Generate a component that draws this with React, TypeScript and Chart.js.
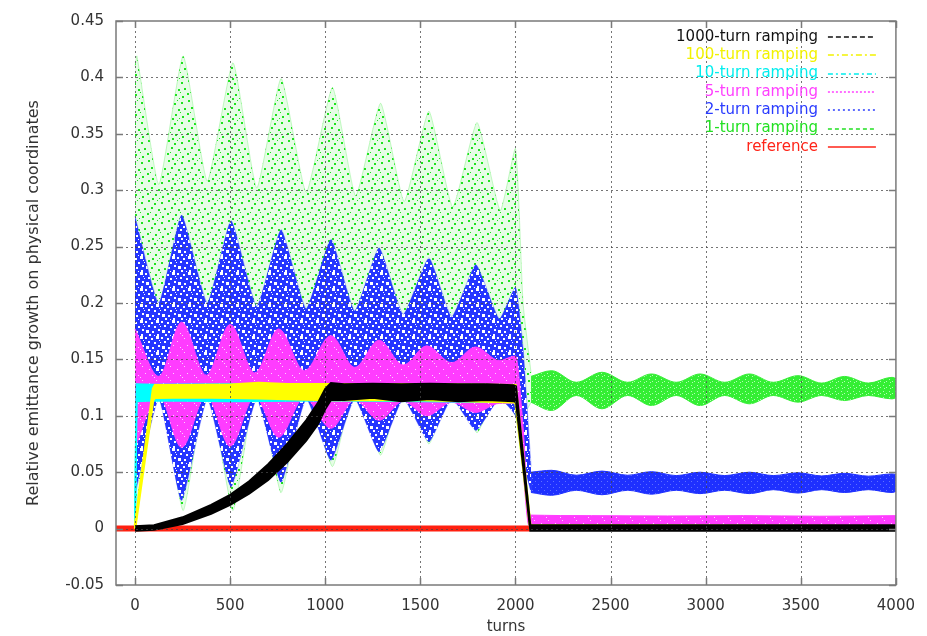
import React, { useEffect, useRef } from 'react';
import { Chart, registerables } from 'chart.js';

Chart.register(...registerables);

// ---------- axes ----------
const X_MIN = -100;
const X_MAX = 4000;
const Y_MIN = -0.05;
const Y_MAX = 0.45;
const X_TICKS = [0, 500, 1000, 1500, 2000, 2500, 3000, 3500, 4000];
const Y_TICKS = [-0.05, 0, 0.05, 0.1, 0.15, 0.2, 0.25, 0.3, 0.35, 0.4, 0.45];
const Y_TICK_LABELS = ['-0.05', '0', '0.05', '0.1', '0.15', '0.2', '0.25', '0.3', '0.35', '0.4', '0.45'];
const X_TITLE = 'turns';
const Y_TITLE = 'Relative emittance growth on physical coordinates';

// ---------- legend ----------
const LEGEND_NAMES = ['1000-turn ramping', '100-turn ramping', '10-turn ramping', '5-turn ramping', '2-turn ramping', '1-turn ramping', 'reference'];
const LEGEND_COLORS = ['#111111', '#f2f200', '#00eeee', '#ff40ff', '#2a3cff', '#22e022', '#ff2418'];
const LEGEND_DASHES = [[5, 3], [6, 3, 2, 3], [5, 3, 2, 3], [2, 2], [2, 3], [4, 3], []];

// ---------- 1000-turn ramping (black band: upper / lower edge) ----------
const T1000_X = [0, 100, 250, 400, 500, 600, 700, 800, 900, 960, 1000, 1030, 1100, 1250, 1400, 1550, 1700, 1850, 1990, 2003, 2078, 4000];
const T1000_HI = [0.002, 0.003, 0.010, 0.021, 0.030, 0.042, 0.057, 0.075, 0.096, 0.111, 0.124, 0.129, 0.128, 0.1285, 0.128, 0.1285, 0.128, 0.128, 0.127, 0.126, 0.003, 0.003];
const T1000_LO = [-0.002, -0.001, 0.004, 0.013, 0.021, 0.031, 0.043, 0.059, 0.078, 0.092, 0.106, 0.114, 0.114, 0.116, 0.113, 0.115, 0.113, 0.114, 0.113, 0.112, -0.002, -0.002];

// ---------- 100-turn ramping (yellow) ----------
const T100_X = [0, 95, 105, 300, 500, 650, 800, 1000, 1500, 2000, 2078, 4000];
const T100_HI = [0.003, 0.124, 0.127, 0.127, 0.1275, 0.129, 0.128, 0.128, 0.128, 0.127, 0.003, 0.002];
const T100_LO = [0, 0.114, 0.116, 0.1165, 0.116, 0.1155, 0.115, 0.114, 0.114, 0.112, 0, 0];

// ---------- 10-turn ramping (cyan) ----------
const T10_X = [0, 8, 100, 500, 1000, 1500, 2000, 2078, 4000];
const T10_HI = [0.003, 0.128, 0.1275, 0.128, 0.128, 0.128, 0.127, 0.003, 0.002];
const T10_LO = [0, 0.113, 0.1135, 0.113, 0.1135, 0.113, 0.112, 0, 0];

// ---------- 5-turn ramping (magenta) ----------
const T5_X = [0, 125, 245, 375, 500, 630, 755, 890, 1030, 1155, 1283, 1410, 1534, 1665, 1790, 1915, 2000, 2040, 2072, 2400, 2800, 3200, 3600, 4000];
const T5_HI = [0.177, 0.135, 0.183, 0.136, 0.181, 0.138, 0.177, 0.140, 0.171, 0.143, 0.167, 0.145, 0.162, 0.147, 0.161, 0.149, 0.153, 0.09, 0.012, 0.0115, 0.0112, 0.0115, 0.011, 0.0115];
const T5_LO = [0.072, 0.118, 0.072, 0.118, 0.073, 0.117, 0.081, 0.116, 0.089, 0.114, 0.096, 0.113, 0.100, 0.112, 0.103, 0.111, 0.111, 0.05, 0.002, 0.002, 0.002, 0.002, 0.002, 0.002];

// ---------- 2-turn ramping (blue) : during ramp / after ----------
const T2A_X = [0, 125, 245, 380, 505, 640, 768, 900, 1030, 1155, 1283, 1410, 1545, 1665, 1792, 1915, 2000, 2040, 2082];
const T2A_HI = [0.277, 0.200, 0.278, 0.200, 0.273, 0.197, 0.265, 0.195, 0.2565, 0.193, 0.249, 0.190, 0.240, 0.188, 0.234, 0.186, 0.214, 0.16, 0.055];
const T2A_LO = [0.030, 0.115, 0.025, 0.115, 0.037, 0.115, 0.041, 0.115, 0.0605, 0.115, 0.068, 0.115, 0.077, 0.115, 0.087, 0.115, 0.100, 0.06, 0.032];
const T2B_X = [2082, 2190, 2320, 2455, 2590, 2715, 2845, 2970, 3100, 3230, 3355, 3485, 3610, 3730, 3855, 3980, 4000];
const T2B_HI = [0.050, 0.0517, 0.0473, 0.051, 0.0473, 0.0505, 0.047, 0.050, 0.047, 0.050, 0.047, 0.0495, 0.0467, 0.049, 0.0465, 0.0485, 0.048];
const T2B_LO = [0.032, 0.0295, 0.034, 0.030, 0.034, 0.0305, 0.034, 0.031, 0.034, 0.031, 0.0345, 0.0315, 0.0345, 0.032, 0.0345, 0.032, 0.033];

// ---------- 1-turn ramping (green) : during ramp / after ----------
const T1A_X = [0, 10, 125, 253, 380, 515, 640, 768, 900, 1038, 1160, 1291, 1415, 1545, 1670, 1798, 1920, 2000, 2040, 2082];
const T1A_HI = [0.410, 0.419, 0.305, 0.419, 0.308, 0.413, 0.302, 0.399, 0.298, 0.391, 0.295, 0.377, 0.290, 0.370, 0.285, 0.360, 0.282, 0.337, 0.200, 0.138];
const T1A_LO = [0.030, 0.025, 0.130, 0.016, 0.130, 0.016, 0.130, 0.032, 0.130, 0.055, 0.130, 0.065, 0.130, 0.075, 0.130, 0.085, 0.130, 0.100, 0.100, 0.112];
const T1B_X = [2082, 2190, 2320, 2455, 2590, 2715, 2845, 2970, 3100, 3230, 3355, 3485, 3610, 3730, 3855, 3980, 4000];
const T1B_HI = [0.135, 0.140, 0.1297, 0.1386, 0.1297, 0.1371, 0.1297, 0.1371, 0.1297, 0.1371, 0.1297, 0.1356, 0.129, 0.1349, 0.129, 0.1341, 0.133];
const T1B_LO = [0.112, 0.1047, 0.118, 0.1062, 0.118, 0.1091, 0.118, 0.1091, 0.118, 0.1106, 0.118, 0.1121, 0.118, 0.1135, 0.118, 0.115, 0.116];

// ---------- reference (red) ----------
const REF_X = [-100, 400, 800, 1200, 1600, 2075];
const REF_Y = [0, 0, 0, 0, 0, 0];

// texture tiles (style only): [x, y, size]
const GREEN_DOTS = [[1, 2, 2], [8, 0, 2], [14, 3, 2], [18, 9, 2], [4, 8, 2], [11, 7, 2], [7, 13, 2], [15, 14, 2], [2, 16, 2], [12, 18, 2], [19, 18, 1], [17, 0, 1], [0, 12, 1], [10, 12, 1]];
const BLUE_HOLES = [[1, 1, 2], [7, 2, 2], [12, 0, 3], [4, 5, 2], [10, 6, 2], [14, 9, 2], [2, 10, 3], [8, 11, 2], [13, 14, 2], [5, 14, 2], [0, 6, 1], [10, 15, 1], [15, 4, 1]];
const MAGENTA_SPECKS = [[2, 2, 1], [9, 5, 1], [5, 9, 1], [12, 11, 1], [0, 13, 1]];

function makeTile(ctx: CanvasRenderingContext2D, size: number, bg: string | null, fg: string, dots: number[][]) {
  const c = document.createElement('canvas');
  c.width = size;
  c.height = size;
  const g = c.getContext('2d')!;
  if (bg) {
    g.fillStyle = bg;
    g.fillRect(0, 0, size, size);
  }
  g.fillStyle = fg;
  for (const d of dots) g.fillRect(d[0], d[1], d[2], d[2]);
  return ctx.createPattern(c, 'repeat')!;
}

function band(label: string, xs: number[], hi: number[], lo: number[], fillStyle: any, lineColor: string, bw: number, tension: number, mono: boolean) {
  const common: any = {
    pointRadius: 0,
    borderColor: lineColor,
    borderWidth: bw,
    tension,
    cubicInterpolationMode: mono ? 'monotone' : 'default',
  };
  return [
    { ...common, label: label + ' upper', data: xs.map((x, i) => ({ x, y: hi[i] })), fill: '+1', backgroundColor: fillStyle },
    { ...common, label: label + ' lower', data: xs.map((x, i) => ({ x, y: lo[i] })), fill: false },
  ];
}

const gnuplotPlugin = {
  id: 'gnuplotFrame',
  afterDatasetsDraw(chart: any) {
    const { ctx, chartArea: a, scales } = chart;
    const sx = scales.x;
    const sy = scales.y;
    ctx.save();
    // grid
    ctx.strokeStyle = 'rgba(70,70,70,0.75)';
    ctx.lineWidth = 1;
    ctx.setLineDash([2, 3]);
    ctx.beginPath();
    for (const v of X_TICKS) {
      const px = Math.round(sx.getPixelForValue(v)) + 0.5;
      if (px > a.left + 2 && px < a.right - 2) {
        ctx.moveTo(px, a.top);
        ctx.lineTo(px, a.bottom);
      }
    }
    for (const v of Y_TICKS) {
      const py = Math.round(sy.getPixelForValue(v)) + 0.5;
      if (py > a.top + 2 && py < a.bottom - 2) {
        ctx.moveTo(a.left, py);
        ctx.lineTo(a.right, py);
      }
    }
    ctx.stroke();
    ctx.setLineDash([]);
    // frame
    ctx.strokeStyle = '#7a7a7a';
    ctx.lineWidth = 1.5;
    ctx.strokeRect(a.left, a.top, a.right - a.left, a.bottom - a.top);
    // inner tick marks (mirrored)
    const t = 7;
    ctx.beginPath();
    for (const v of X_TICKS) {
      const px = Math.round(sx.getPixelForValue(v)) + 0.5;
      ctx.moveTo(px, a.bottom);
      ctx.lineTo(px, a.bottom - t);
      ctx.moveTo(px, a.top);
      ctx.lineTo(px, a.top + t);
    }
    for (const v of Y_TICKS) {
      const py = Math.round(sy.getPixelForValue(v)) + 0.5;
      ctx.moveTo(a.left, py);
      ctx.lineTo(a.left + t, py);
      ctx.moveTo(a.right, py);
      ctx.lineTo(a.right - t, py);
    }
    ctx.stroke();
    // key (legend)
    ctx.font = '15px "DejaVu Sans"';
    ctx.textAlign = 'right';
    ctx.textBaseline = 'middle';
    const textRight = a.right - 78;
    const sampleL = a.right - 68;
    const sampleR = a.right - 20;
    for (let i = 0; i < LEGEND_NAMES.length; i++) {
      const y = a.top + 16 + i * 18.3;
      ctx.fillStyle = LEGEND_COLORS[i];
      ctx.fillText(LEGEND_NAMES[i], textRight, y);
      ctx.strokeStyle = LEGEND_COLORS[i];
      ctx.lineWidth = 1.5;
      ctx.setLineDash(LEGEND_DASHES[i]);
      ctx.beginPath();
      ctx.moveTo(sampleL, Math.round(y));
      ctx.lineTo(sampleR, Math.round(y));
      ctx.stroke();
    }
    ctx.setLineDash([]);
    ctx.restore();
  },
};

export default function App() {
  const canvasRef = useRef<HTMLCanvasElement | null>(null);

  useEffect(() => {
    document.body.style.margin = '0';
    const canvas = canvasRef.current!;
    const ctx = canvas.getContext('2d')!;
    Chart.defaults.font.family = '"DejaVu Sans", sans-serif';

    const greenSparse = makeTile(ctx, 20, 'rgba(80,240,80,0.14)', '#1ee21e', GREEN_DOTS);
    const greenDense = makeTile(ctx, 6, '#34ee34', '#b0ffb0', [[1, 1, 1], [4, 3, 1], [2, 4, 1]]);
    const blueSparse = makeTile(ctx, 16, '#2536ff', '#ffffff', BLUE_HOLES);
    const blueDense = makeTile(ctx, 6, '#1e30ff', '#6070ff', [[1, 1, 1], [4, 4, 1]]);
    const magentaFill = makeTile(ctx, 14, '#ff3cff', '#ffd0ff', MAGENTA_SPECKS);

    const datasets: any[] = [
      ...band('1000-turn ramping', T1000_X, T1000_HI, T1000_LO, '#000000', '#000000', 2, 0, false),
      ...band('100-turn ramping', T100_X, T100_HI, T100_LO, '#ffff00', '#ffff00', 2.5, 0, false),
      ...band('10-turn ramping', T10_X, T10_HI, T10_LO, '#00ffff', '#00ffff', 2, 0, false),
      ...band('5-turn ramping', T5_X, T5_HI, T5_LO, magentaFill, '#ff3cff', 1, 0.4, true),
      ...band('2-turn ramping (after)', T2B_X, T2B_HI, T2B_LO, blueDense, '#1e30ff', 1, 0.4, true),
      ...band('2-turn ramping', T2A_X, T2A_HI, T2A_LO, blueSparse, 'rgba(37,54,255,0.35)', 1, 0.15, false),
      ...band('1-turn ramping (after)', T1B_X, T1B_HI, T1B_LO, greenDense, '#34ee34', 1, 0.4, true),
      ...band('1-turn ramping', T1A_X, T1A_HI, T1A_LO, greenSparse, 'rgba(34,230,34,0.25)', 1, 0.15, false),
      {
        label: 'reference',
        data: REF_X.map((x, i) => ({ x, y: REF_Y[i] })),
        borderColor: '#ff2010',
        borderWidth: 6,
        pointRadius: 0,
        fill: false,
      },
    ];

    const chart = new Chart(canvas, {
      type: 'line',
      data: { datasets },
      plugins: [gnuplotPlugin],
      options: {
        responsive: false,
        animation: false,
        devicePixelRatio: 1,
        layout: { padding: { top: 19, right: 28, left: 0, bottom: 0 } },
        plugins: {
          legend: { display: false },
          tooltip: { enabled: false },
          filler: { propagate: false },
        },
        scales: {
          x: {
            type: 'linear',
            min: X_MIN,
            max: X_MAX,
            afterBuildTicks: (s: any) => {
              s.ticks = X_TICKS.map((v) => ({ value: v }));
            },
            afterFit: (s: any) => {
              s.height = 51;
            },
            grid: { display: false, drawTicks: false },
            border: { display: false },
            ticks: {
              padding: 12,
              color: '#333',
              font: { size: 15 },
              maxRotation: 0,
              autoSkip: false,
              callback: (v: any) => String(v),
            },
            title: {
              display: true,
              text: X_TITLE,
              color: '#333',
              font: { size: 15 },
              padding: { top: 0, bottom: 0 },
            },
          },
          y: {
            type: 'linear',
            min: Y_MIN,
            max: Y_MAX,
            afterBuildTicks: (s: any) => {
              s.ticks = Y_TICKS.map((v) => ({ value: v }));
            },
            afterFit: (s: any) => {
              s.width = 116;
            },
            grid: { display: false, drawTicks: false },
            border: { display: false },
            ticks: {
              padding: 12,
              color: '#333',
              font: { size: 15 },
              autoSkip: false,
              callback: (v: any) => {
                const k = Y_TICKS.findIndex((t) => Math.abs(t - Number(v)) < 1e-9);
                return k >= 0 ? Y_TICK_LABELS[k] : '';
              },
            },
            title: {
              display: true,
              text: Y_TITLE,
              color: '#333',
              font: { size: 16 },
              padding: { top: 24, bottom: 0 },
            },
          },
        },
      } as any,
    });

    return () => chart.destroy();
  }, []);

  return (
    <div style={{ width: 927, height: 636 }}>
      <canvas ref={canvasRef} width={927} height={636} style={{ display: 'block', width: 927, height: 636 }} />
    </div>
  );
}
